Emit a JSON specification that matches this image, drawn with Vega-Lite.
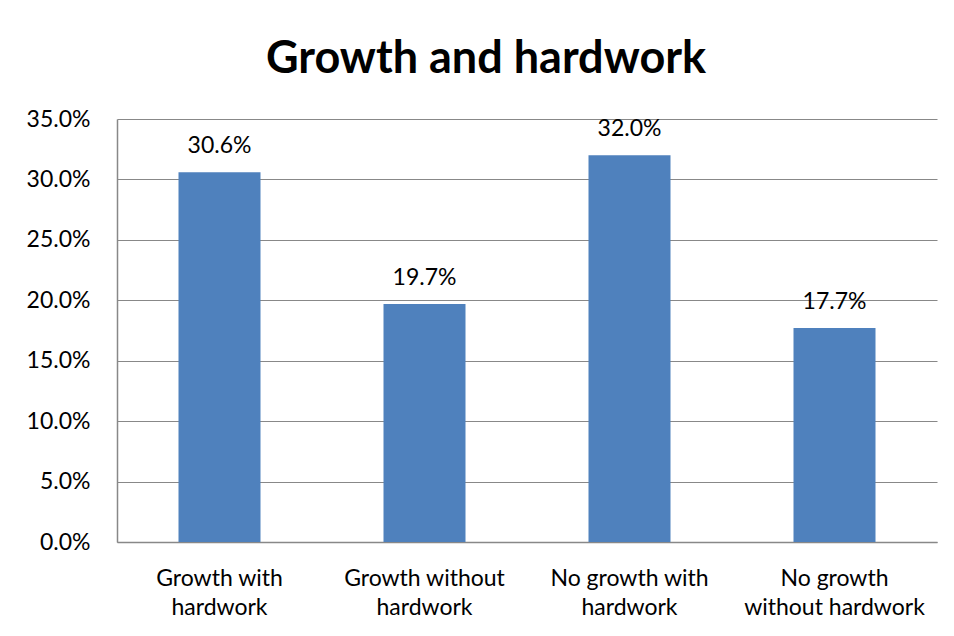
{
  "$schema": "https://vega.github.io/schema/vega-lite/v6.json",
  "autosize": "none",
  "width": 820,
  "height": 423,
  "padding": {"left": 117, "top": 119, "right": 17, "bottom": 94},
  "background": "white",
  "title": {
    "text": "Growth and hardwork",
    "font": "Lato",
    "fontSize": 45,
    "fontWeight": "bold",
    "color": "black",
    "anchor": "middle",
    "frame": "group",
    "dx": -41,
    "offset": 26
  },
  "data": {
    "values": [
      {"category": "Growth with hardwork", "share": 0.306},
      {"category": "Growth without hardwork", "share": 0.197},
      {"category": "No growth with hardwork", "share": 0.320},
      {"category": "No growth without hardwork", "share": 0.177}
    ]
  },
  "encoding": {
    "x": {
      "field": "category",
      "type": "nominal",
      "sort": null,
      "scale": {"paddingInner": 0.6, "paddingOuter": 0.3},
      "axis": {
        "title": null,
        "labelAngle": 0,
        "labelFont": "Lato",
        "labelFontSize": 23,
        "labelColor": "black",
        "labelLineHeight": 29,
        "labelPadding": 25,
        "labelLimit": 400,
        "ticks": false,
        "domainColor": "#888888",
        "domainWidth": 1.5,
        "labelExpr": "datum.label == 'Growth with hardwork' ? ['Growth with', 'hardwork'] : datum.label == 'Growth without hardwork' ? ['Growth without', 'hardwork'] : datum.label == 'No growth with hardwork' ? ['No growth with', 'hardwork'] : ['No growth', 'without hardwork']"
      }
    },
    "y": {
      "field": "share",
      "type": "quantitative",
      "scale": {"domain": [0, 0.35]},
      "axis": {
        "title": null,
        "values": [0, 0.05, 0.1, 0.15, 0.2, 0.25, 0.3, 0.35],
        "format": ".1%",
        "labelFont": "Lato",
        "labelFontSize": 23,
        "labelColor": "black",
        "labelPadding": 27,
        "ticks": false,
        "domainColor": "#888888",
        "domainWidth": 1.5,
        "gridColor": "#888888",
        "gridWidth": 1.2
      }
    }
  },
  "layer": [
    {"mark": {"type": "bar", "color": "#4F81BD"}},
    {
      "mark": {"type": "text", "font": "Lato", "fontSize": 23, "color": "black", "dy": -26},
      "encoding": {"text": {"field": "share", "type": "quantitative", "format": ".1%"}}
    }
  ],
  "config": {"view": {"stroke": null}}
}
